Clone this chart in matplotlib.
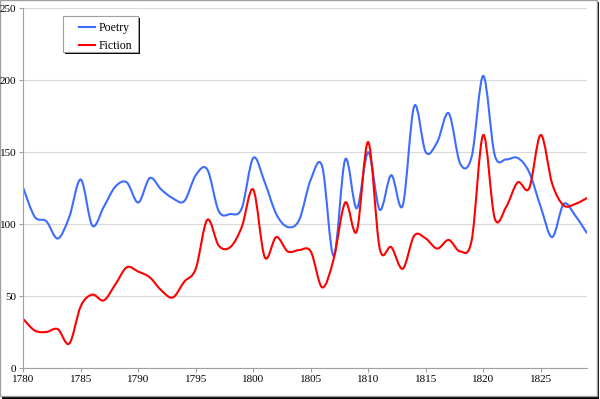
import numpy as np
import matplotlib.pyplot as plt
from matplotlib.path import Path
from matplotlib.patches import PathPatch, Rectangle
from matplotlib.lines import Line2D

# Yearly counts
years = list(range(1780, 1830))
poetry = [125, 105, 102, 90, 105, 131, 99, 112, 126, 129,
          115, 132, 124, 118, 116, 134, 138, 109, 107, 111,
          146, 129, 107, 98, 103, 131, 140, 78, 145, 111,
          150, 110, 134, 113, 182, 150, 157, 177, 142, 147,
          203, 148, 145, 146, 136, 112, 91, 114, 106, 94]
fiction = [34, 26, 25, 27, 17, 43, 51, 47, 58, 70,
           67, 63, 54, 49, 60, 69, 103, 85, 84, 98,
           124, 77, 91, 81, 82, 81, 56, 76, 115, 95,
           157, 83, 84, 69, 92, 90, 83, 89, 81, 89,
           162, 104, 112, 129, 125, 162, 128, 113, 114, 118]

x_ticks = [1780, 1785, 1790, 1795, 1800, 1805, 1810, 1815, 1820, 1825]
y_ticks = [0, 50, 100, 150, 200, 250]

plt.rcParams['font.family'] = ['Liberation Serif', 'DejaVu Serif']


def smooth_path(xs, ys):
    """Excel-style smoothed line: Catmull-Rom through the points as Bezier segments."""
    p = np.column_stack([xs, ys]).astype(float)
    ext = np.vstack([p[0], p, p[-1]])
    verts = [p[0]]
    codes = [Path.MOVETO]
    for i in range(len(p) - 1):
        p0, p1, p2, p3 = ext[i], ext[i + 1], ext[i + 2], ext[i + 3]
        verts += [p1 + (p2 - p0) / 6, p2 - (p3 - p1) / 6, p2]
        codes += [Path.CURVE4] * 3
    return Path(verts, codes)


fig = plt.figure(figsize=(6, 3.99), dpi=100)
W, H = 600, 399

# outer chart frame with shadow
fig.patches.append(Rectangle((2 / W, 0), 597 / W, 397 / H, transform=fig.transFigure,
                             facecolor='black', edgecolor='none', zorder=-2))
fig.patches.append(Rectangle((0, 3 / H), 597 / W, 396 / H, transform=fig.transFigure,
                             facecolor='white', edgecolor='#a0a0a0', linewidth=1, zorder=-1))

ax = fig.add_axes([23.3 / W, 1 - 368 / H, (586.7 - 23.3) / W, (368 - 8.3) / H])
ax.set_facecolor('none')
ax.set_zorder(1)

for vals, color in [(poetry, '#3d6cff'), (fiction, '#ff0000')]:
    ax.add_patch(PathPatch(smooth_path(years, vals), facecolor='none',
                           edgecolor=color, linewidth=1.5, capstyle='round'))

ax.set_xlim(1780, 1829)
ax.set_ylim(0, 250)
ax.set_xticks(x_ticks)
ax.set_yticks(y_ticks)
ax.tick_params(labelsize=8, colors='black', length=3, width=0.8, pad=2)
ax.tick_params(axis='both', color='#a0a0a0')
ax.grid(axis='y', color='#d9d9d9', linewidth=0.8)
ax.set_axisbelow(True)
for side in ['top', 'right']:
    ax.spines[side].set_visible(False)
for side in ['left', 'bottom']:
    ax.spines[side].set_color('#a0a0a0')
    ax.spines[side].set_linewidth(0.8)

# legend box with shadow
fig.patches.append(Rectangle((65 / W, 1 - 54 / H), 75 / W, 36 / H, transform=fig.transFigure,
                             facecolor='black', edgecolor='none', zorder=5))
fig.patches.append(Rectangle((63 / W, 1 - 52 / H), 75 / W, 36 / H, transform=fig.transFigure,
                             facecolor='white', edgecolor='#a0a0a0', linewidth=0.8, zorder=6))
handles = [Line2D([], [], color='#3d6cff', linewidth=1.5),
           Line2D([], [], color='#ff0000', linewidth=1.5)]
leg = fig.legend(handles, ['Poetry', 'Fiction'], loc='upper left',
                 bbox_to_anchor=(70 / W, 1 - 13 / H), frameon=False, fontsize=8.5,
                 handlelength=1.3, handletextpad=0.3, labelspacing=0.45,
                 borderpad=0.3)
leg.set_zorder(7)

fig.savefig('out.png', dpi=100)
